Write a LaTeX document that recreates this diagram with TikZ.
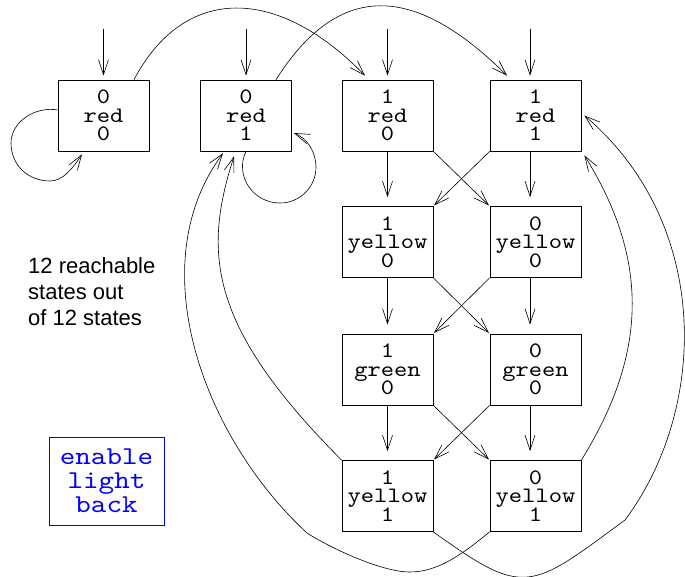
\documentclass[tikz,border=0pt]{standalone}
\usepackage{fontspec}
\setmainfont{Liberation Sans}
\newfontfamily\monofont[FakeStretch=1.15]{lmmono10-regular.otf}
\usetikzlibrary{arrows.meta,calc}

\begin{document}
\setlength{\lineskiplimit}{-100pt}
\begin{tikzpicture}[x=1pt,y=-1pt,
  state/.style={draw, line width=0.7pt, minimum width=91pt, minimum height=71pt,
    inner sep=0pt, align=center,
    font=\monofont\fontsize{22}{18.5}\selectfont},
  arr/.style={-{Straight Barb[length=15pt,width=10pt]}, line width=0.6pt},
  legendbox/.style={draw=blue, text=blue, line width=0.6pt, minimum width=115pt,
    minimum height=88pt, inner sep=0pt, align=center,
    font=\monofont\fontsize{25.7}{24}\selectfont},
]
\useasboundingbox (0,0) rectangle (685,577);

% states
\node[state] (A)  at (103.5,115.5) {0\\red\\0};
\node[state] (B)  at (246,115.5)   {0\\red\\1};
\node[state] (C1) at (387.5,115.5) {1\\red\\0};
\node[state] (D1) at (535.5,115.5) {1\\red\\1};
\node[state] (C2) at (387.5,242)   {1\\yellow\\0};
\node[state] (D2) at (535.5,242)   {0\\yellow\\0};
\node[state] (C3) at (387.5,369.5) {1\\green\\0};
\node[state] (D3) at (535.5,369.5) {0\\green\\0};
\node[state] (C4) at (387.5,496)   {1\\yellow\\1};
\node[state] (D4) at (535.5,496)   {0\\yellow\\1};

% initial-state arrows
\coordinate (inA) at ($(A.north)+(0,-51)$);
\coordinate (inB) at ($(B.north)+(0,-51)$);
\coordinate (inC) at ($(C1.north)+(0,-51)$);
\coordinate (inD) at ($(D1.north)+(-5.5,-51)$);
\draw[arr, shorten >=4pt] (inA) -- (A.north);
\draw[arr, shorten >=4pt] (inB) -- (B.north);
\draw[arr, shorten >=4pt] (inC) -- (C1.north);
\draw[arr, shorten >=4pt] (inD) -- ([xshift=-5.5pt]D1.north);

% straight transitions down the grid
\draw[arr, shorten >=9pt] (C1.south) -- (C2.north);
\draw[arr, shorten >=9pt] (C2.south) -- (C3.north);
\draw[arr, shorten >=9pt] (C3.south) -- (C4.north);
\draw[arr, shorten >=9pt] ([xshift=-5.5pt]D1.south) -- ([xshift=-5.5pt]D2.north);
\draw[arr, shorten >=9pt] ([xshift=-5.5pt]D2.south) -- ([xshift=-5.5pt]D3.north);
\draw[arr, shorten >=9pt] ([xshift=-5.5pt]D3.south) -- ([xshift=-5.5pt]D4.north);

% crossing transitions
\draw[arr, shorten >=1pt] (C1.south east) -- (D2.north west);
\draw[arr, shorten >=1pt] (D1.south west) -- (C2.north east);
\draw[arr, shorten >=1pt] (C2.south east) -- (D3.north west);
\draw[arr, shorten >=1pt] (D2.south west) -- (C3.north east);
\draw[arr, shorten >=1pt] (C3.south east) -- (D4.north west);
\draw[arr, shorten >=1pt] (D3.south west) -- (C4.north east);

% self loops
\draw[arr] ([yshift=5.5pt]A.west) .. controls (35,106) and (11,122) .. (11,143)
  .. controls (11,165) and (28,181) .. (50,181)
  .. controls (63,181) and (73,168) .. ([xshift=-21.5pt,yshift=-3pt]A.south);
\draw[arr] (B.south) .. controls (234.4,175.6) and (252.8,203) .. (280,203)
  .. controls (299.9,203) and (316,186.9) .. (316,167)
  .. controls (316,152.3) and (307.6,138.6) .. ([xshift=2pt,yshift=-17.5pt]B.east);

% arcs over the top
\draw[arr] ([xshift=30.5pt]A.north) .. controls (184,-15) and (277,-15)
  .. ([xshift=-22.5pt,yshift=4pt]C1.north);
\draw[arr] ([xshift=30pt]B.north) .. controls (338,-18) and (413,-18)
  .. ([xshift=-28.5pt,yshift=4pt]D1.north);

% long returns from the bottom row
\draw[arr] (C4.north west) .. controls (208,326) and (203,253)
  .. ([xshift=-12pt,yshift=-5pt]B.south);
\draw[arr] (D4.south west) .. controls (466,551) and (440,572) .. (410,572)
  .. controls (380,572) and (327,546) .. (307,533)
  .. controls (204,438) and (139.7,265.6) .. ([xshift=-23pt,yshift=-2pt]B.south);
\draw[arr] (C4.south east) .. controls (525,598) and (530,590) .. (625,520)
  .. controls (708,409) and (712,224) .. ([xshift=3pt]D1.east);
\draw[arr] (D4.north east) .. controls (647,354) and (650,261)
  .. ([xshift=3pt,yshift=-4pt]D1.south east);

% annotations
\node[anchor=north west, inner sep=0pt, align=left,
  font=\fontsize{22}{26}\selectfont] (note) at (28,257)
  {12 reachable\\states out\\of 12 states};
\node[legendbox] (legend) at (106.5,481) {enable\\light\\back};
\end{tikzpicture}
\end{document}
